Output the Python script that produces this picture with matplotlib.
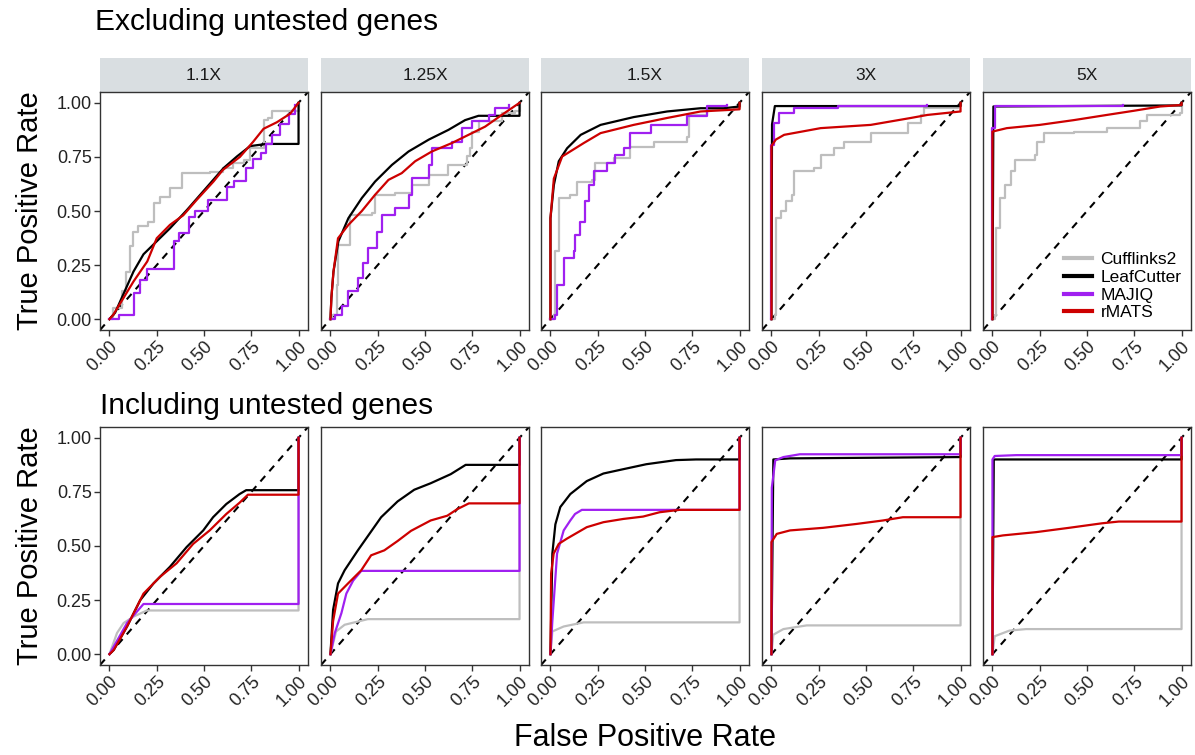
import matplotlib.pyplot as plt
from matplotlib.lines import Line2D

plt.rcParams['font.family'] = ['Liberation Sans', 'DejaVu Sans']

# fold-change facets and methods
facets = ['1.1X', '1.25X', '1.5X', '3X', '5X']
methods = ['Cufflinks2', 'LeafCutter', 'MAJIQ', 'rMATS']
colours = ['#BEBEBE', '#000000', '#A020F0', '#CD0000']
ticks = [0.0, 0.25, 0.5, 0.75, 1.0]
tick_labels = ['0.00', '0.25', '0.50', '0.75', '1.00']

# ROC points (FPR, TPR), excluding untested genes
exc_11_cuff = [(0, 0), (0.02, 0.05), (0.065, 0.13), (0.09, 0.22), (0.11, 0.34), (0.127, 0.405), (0.153, 0.43),
               (0.206, 0.45), (0.233, 0.536), (0.268, 0.567), (0.32, 0.605), (0.383, 0.675), (0.533, 0.68),
               (0.603, 0.698), (0.656, 0.72), (0.709, 0.736), (0.744, 0.79), (0.815, 0.92), (0.84, 0.93),
               (0.86, 0.96), (0.956, 0.96), (1.0, 1.0)]
exc_11_leaf = [(0, 0), (0.03, 0.03), (0.127, 0.22), (0.18, 0.30), (0.25, 0.36), (0.32, 0.42), (0.41, 0.505),
               (0.48, 0.575), (0.603, 0.698), (0.674, 0.752), (0.744, 0.80), (0.83, 0.81), (1.0, 0.81), (1.0, 1.0)]
exc_11_majiq = [(0, 0), (0.05, 0.02), (0.13, 0.12), (0.16, 0.18), (0.20, 0.23), (0.34, 0.36), (0.37, 0.40),
                (0.42, 0.47), (0.45, 0.50), (0.52, 0.55), (0.62, 0.61), (0.66, 0.64), (0.72, 0.70), (0.76, 0.74),
                (0.80, 0.77), (0.83, 0.81), (0.86, 0.85), (0.90, 0.90), (0.95, 0.95), (0.98, 0.99)]
exc_11_rmats = [(0, 0), (0.02, 0.02), (0.127, 0.174), (0.2, 0.267), (0.25, 0.374), (0.32, 0.436), (0.39, 0.48),
                (0.46, 0.55), (0.55, 0.636), (0.60, 0.69), (0.69, 0.75), (0.76, 0.82), (0.815, 0.88), (0.885, 0.91),
                (0.956, 0.95), (1.0, 1.0)]

exc_125_cuff = [(0, 0), (0.01, 0.02), (0.033, 0.16), (0.042, 0.343), (0.104, 0.482), (0.22, 0.49), (0.236, 0.575),
                (0.342, 0.582), (0.43, 0.62), (0.52, 0.667), (0.624, 0.713), (0.72, 0.752), (0.74, 0.79),
                (0.748, 0.867), (0.783, 0.914), (0.906, 0.952), (0.977, 0.96), (1.0, 1.0)]
exc_125_leaf = [(0, 0), (0.005, 0.1), (0.016, 0.22), (0.042, 0.36), (0.095, 0.467), (0.166, 0.56), (0.236, 0.636),
                (0.325, 0.713), (0.413, 0.775), (0.52, 0.83), (0.624, 0.875), (0.712, 0.92), (0.783, 0.94),
                (1.0, 0.94), (1.0, 1.0)]
exc_125_majiq = [(0, 0), (0.025, 0.02), (0.06, 0.06), (0.095, 0.128), (0.148, 0.19), (0.17, 0.26), (0.2, 0.33),
                 (0.245, 0.405), (0.27, 0.482), (0.342, 0.513), (0.413, 0.575), (0.43, 0.652), (0.52, 0.713),
                 (0.536, 0.79), (0.642, 0.82), (0.695, 0.883), (0.748, 0.914), (0.836, 0.944), (0.87, 0.975),
                 (0.942, 0.99)]
exc_125_rmats = [(0, 0), (0.005, 0.1), (0.016, 0.22), (0.04, 0.374), (0.095, 0.436), (0.166, 0.50), (0.236, 0.575),
                 (0.307, 0.644), (0.377, 0.675), (0.448, 0.73), (0.536, 0.775), (0.642, 0.814), (0.73, 0.852),
                 (0.818, 0.89), (0.906, 0.944), (1.0, 1.0)]

exc_15_cuff = [(0, 0), (0.02, 0.02), (0.026, 0.313), (0.044, 0.56), (0.106, 0.575), (0.14, 0.636), (0.22, 0.644),
               (0.238, 0.72), (0.335, 0.744), (0.423, 0.798), (0.547, 0.82), (0.723, 0.844), (0.732, 0.944),
               (0.83, 0.968), (0.97, 0.975), (1.0, 1.0)]
exc_15_leaf = [(0, 0), (0.0, 0.467), (0.018, 0.62), (0.044, 0.73), (0.088, 0.79), (0.16, 0.852), (0.265, 0.898),
               (0.44, 0.934), (0.617, 0.96), (0.794, 0.975), (0.917, 0.975), (1.0, 0.983), (1.0, 1.0)]
exc_15_majiq = [(0, 0), (0.026, 0.02), (0.035, 0.16), (0.07, 0.282), (0.123, 0.313), (0.132, 0.39), (0.155, 0.45),
                (0.185, 0.544), (0.205, 0.62), (0.23, 0.683), (0.30, 0.72), (0.34, 0.76), (0.388, 0.79),
                (0.423, 0.86), (0.53, 0.898), (0.723, 0.937), (0.83, 0.983), (0.935, 0.99)]
exc_15_rmats = [(0, 0), (0.0, 0.467), (0.018, 0.65), (0.062, 0.752), (0.176, 0.814), (0.265, 0.86), (0.44, 0.898),
                (0.617, 0.93), (0.794, 0.96), (1.0, 0.97), (1.0, 1.0)]

exc_3_cuff = [(0, 0), (0.018, 0.02), (0.023, 0.467), (0.05, 0.5), (0.076, 0.544), (0.11, 0.575), (0.12, 0.683),
              (0.226, 0.698), (0.26, 0.76), (0.33, 0.79), (0.384, 0.82), (0.525, 0.86), (0.72, 0.906),
              (0.79, 0.944), (0.808, 0.975), (0.984, 0.983), (1.0, 1.0)]
exc_3_leaf = [(0, 0), (0.003, 0.9), (0.018, 0.985), (1.0, 0.985), (1.0, 1.0)]
exc_3_majiq = [(0, 0), (0.0, 0.806), (0.014, 0.906), (0.04, 0.952), (0.12, 0.975), (0.35, 0.983), (0.825, 0.99)]
exc_3_rmats = [(0, 0), (0.0, 0.80), (0.023, 0.83), (0.067, 0.852), (0.26, 0.883), (0.525, 0.898), (0.737, 0.93),
               (0.825, 0.944), (1.0, 0.96), (1.0, 1.0)]

exc_5_cuff = [(0, 0), (0.014, 0.02), (0.02, 0.42), (0.04, 0.56), (0.067, 0.62), (0.10, 0.683), (0.12, 0.736),
              (0.226, 0.76), (0.235, 0.82), (0.27, 0.86), (0.43, 0.867), (0.605, 0.883), (0.78, 0.914),
              (0.817, 0.944), (0.993, 0.952), (1.0, 1.0)]
exc_5_leaf = [(0, 0), (0.005, 0.983), (1.0, 0.988), (1.0, 1.0)]
exc_5_majiq = [(0, 0), (0.0, 0.883), (0.014, 0.983), (0.69, 0.99)]
exc_5_rmats = [(0, 0), (0.0, 0.867), (0.076, 0.883), (0.25, 0.898), (0.43, 0.92), (0.605, 0.944), (0.746, 0.963),
               (0.887, 0.983), (1.0, 0.99), (1.0, 1.0)]

# ROC points (FPR, TPR), including untested genes
inc_11_cuff = [(0, 0), (0.04, 0.098), (0.075, 0.144), (0.128, 0.174), (0.198, 0.202), (1.0, 0.202), (1.0, 1.0)]
inc_11_leaf = [(0, 0), (0.023, 0.02), (0.093, 0.128), (0.163, 0.25), (0.233, 0.327), (0.32, 0.404), (0.408, 0.495),
               (0.496, 0.572), (0.548, 0.633), (0.618, 0.694), (0.688, 0.74), (0.723, 0.758), (1.0, 0.758),
               (1.0, 1.0)]
inc_11_majiq = [(0, 0), (0.093, 0.144), (0.18, 0.232), (1.0, 0.232), (1.0, 1.0)]
inc_11_rmats = [(0, 0), (0.023, 0.02), (0.093, 0.128), (0.18, 0.28), (0.268, 0.358), (0.355, 0.42), (0.443, 0.51),
                (0.53, 0.572), (0.618, 0.648), (0.688, 0.70), (0.732, 0.737), (1.0, 0.737), (1.0, 1.0)]

inc_125_cuff = [(0, 0), (0.03, 0.105), (0.075, 0.136), (0.198, 0.162), (1.0, 0.162), (1.0, 1.0)]
inc_125_leaf = [(0, 0), (0.014, 0.205), (0.04, 0.327), (0.075, 0.388), (0.145, 0.48), (0.198, 0.546),
                (0.268, 0.633), (0.355, 0.706), (0.443, 0.76), (0.53, 0.79), (0.636, 0.832), (0.715, 0.875),
                (1.0, 0.875), (1.0, 1.0)]
inc_125_majiq = [(0, 0), (0.023, 0.098), (0.058, 0.19), (0.084, 0.28), (0.12, 0.34), (0.163, 0.385),
                 (1.0, 0.385), (1.0, 1.0)]
inc_125_rmats = [(0, 0), (0.014, 0.153), (0.04, 0.28), (0.093, 0.327), (0.163, 0.388), (0.215, 0.457),
                 (0.285, 0.48), (0.355, 0.523), (0.426, 0.57), (0.53, 0.618), (0.618, 0.64), (0.67, 0.67),
                 (0.732, 0.697), (1.0, 0.697), (1.0, 1.0)]

inc_15_cuff = [(0, 0), (0.01, 0.105), (0.07, 0.128), (0.175, 0.147), (1.0, 0.147), (1.0, 1.0)]
inc_15_leaf = [(0, 0), (0.01, 0.465), (0.026, 0.6), (0.052, 0.68), (0.105, 0.74), (0.192, 0.80), (0.28, 0.835),
               (0.385, 0.855), (0.507, 0.878), (0.664, 0.897), (0.77, 0.9), (1.0, 0.9), (1.0, 1.0)]
inc_15_majiq = [(0, 0), (0.01, 0.153), (0.035, 0.465), (0.07, 0.572), (0.105, 0.618), (0.13, 0.648),
                (0.166, 0.667), (1.0, 0.667), (1.0, 1.0)]
inc_15_rmats = [(0, 0), (0.0035, 0.373), (0.017, 0.465), (0.044, 0.51), (0.087, 0.534), (0.192, 0.587),
                (0.28, 0.61), (0.385, 0.625), (0.49, 0.636), (0.577, 0.656), (0.682, 0.667), (1.0, 0.667),
                (1.0, 1.0)]

inc_3_cuff = [(0, 0), (0.01, 0.09), (0.063, 0.116), (0.186, 0.133), (1.0, 0.133), (1.0, 1.0)]
inc_3_leaf = [(0, 0), (0.01, 0.9), (0.098, 0.905), (1.0, 0.911), (1.0, 1.0)]
inc_3_majiq = [(0, 0), (0.002, 0.77), (0.02, 0.896), (0.063, 0.911), (0.15, 0.924), (1.0, 0.924), (1.0, 1.0)]
inc_3_rmats = [(0, 0), (0.0, 0.518), (0.028, 0.556), (0.098, 0.572), (0.274, 0.584), (0.45, 0.602), (0.59, 0.618),
               (0.695, 0.633), (1.0, 0.633), (1.0, 1.0)]

inc_5_cuff = [(0, 0), (0.012, 0.083), (0.09, 0.109), (0.178, 0.116), (1.0, 0.116), (1.0, 1.0)]
inc_5_leaf = [(0, 0), (0.007, 0.9), (1.0, 0.9), (1.0, 1.0)]
inc_5_majiq = [(0, 0), (0.0, 0.9), (0.012, 0.916), (0.126, 0.92), (1.0, 0.92), (1.0, 1.0)]
inc_5_rmats = [(0, 0), (0.0, 0.541), (0.056, 0.549), (0.23, 0.564), (0.405, 0.584), (0.58, 0.605), (0.668, 0.613),
               (1.0, 0.613), (1.0, 1.0)]

excluding = [
    [exc_11_cuff, exc_11_leaf, exc_11_majiq, exc_11_rmats],
    [exc_125_cuff, exc_125_leaf, exc_125_majiq, exc_125_rmats],
    [exc_15_cuff, exc_15_leaf, exc_15_majiq, exc_15_rmats],
    [exc_3_cuff, exc_3_leaf, exc_3_majiq, exc_3_rmats],
    [exc_5_cuff, exc_5_leaf, exc_5_majiq, exc_5_rmats],
]
including = [
    [inc_11_cuff, inc_11_leaf, inc_11_majiq, inc_11_rmats],
    [inc_125_cuff, inc_125_leaf, inc_125_majiq, inc_125_rmats],
    [inc_15_cuff, inc_15_leaf, inc_15_majiq, inc_15_rmats],
    [inc_3_cuff, inc_3_leaf, inc_3_majiq, inc_3_rmats],
    [inc_5_cuff, inc_5_leaf, inc_5_majiq, inc_5_rmats],
]

W, H = 1195, 755
fig = plt.figure(figsize=(W / 100, H / 100), dpi=100)


def px_box(left, top, width, height):
    return [left / W, 1 - (top + height) / H, width / W, height / H]


lefts = [100, 321, 541, 762, 983]
pw, ph = 208, 238


def panel(left, top, curves, first, stepped):
    ax = fig.add_axes(px_box(left, top, pw, ph))
    ax.plot([-0.05, 1.05], [-0.05, 1.05], color='black', lw=1.5, ls=(0, (3.5, 3.0)), zorder=1)
    for i, pts in enumerate(curves):
        xs = [p[0] for p in pts]
        ys = [p[1] for p in pts]
        ds = 'steps-post' if (stepped and i in (0, 2)) else 'default'
        ax.plot(xs, ys, color=colours[i], lw=1.6, drawstyle=ds, zorder=2 + i)
    ax.set_xlim(-0.05, 1.05)
    ax.set_ylim(-0.05, 1.05)
    ax.set_xticks(ticks)
    ax.set_xticklabels(tick_labels, rotation=45, ha='right', va='top', rotation_mode='anchor', fontsize=13)
    if first:
        ax.set_yticks(ticks)
        ax.set_yticklabels(tick_labels, fontsize=13)
    else:
        ax.set_yticks([])
    ax.tick_params(length=4, width=1, color='#333333', labelcolor='#222222', pad=2)
    for s in ax.spines.values():
        s.set_color('#333333')
        s.set_linewidth(1.0)
    return ax


top_row = 92
bottom_row = 427
for k in range(5):
    strip = fig.add_axes(px_box(lefts[k], 58, pw, 34))
    strip.set_facecolor('#D9DEE1')
    strip.set_xticks([])
    strip.set_yticks([])
    for s in strip.spines.values():
        s.set_visible(False)
    strip.text(0.5, 0.5, facets[k], ha='center', va='center', fontsize=12.5, color='#1A1A1A',
               transform=strip.transAxes)
    ax_top = panel(lefts[k], top_row, excluding[k], k == 0, True)
    panel(lefts[k], bottom_row, including[k], k == 0, False)
    if k == 4:
        handles = [Line2D([], [], color=c, lw=3) for c in colours]
        ax_top.legend(handles, methods, loc='lower right', frameon=False, fontsize=12.5,
                      handlelength=1.6, handletextpad=0.5, labelspacing=0.15, borderaxespad=0.15)

fig.text(95 / W, 1 - 22 / H, 'Excluding untested genes', fontsize=21.5, ha='left', va='center')
fig.text(100 / W, 1 - 406 / H, 'Including untested genes', fontsize=21.5, ha='left', va='center')
fig.text(645 / W, 1 - 738 / H, 'False Positive Rate', fontsize=22, ha='center', va='center')
fig.text(30 / W, 1 - (top_row + ph / 2) / H, 'True Positive Rate', fontsize=21, rotation=90,
         ha='center', va='center')
fig.text(30 / W, 1 - (bottom_row + ph / 2) / H, 'True Positive Rate', fontsize=21, rotation=90,
         ha='center', va='center')

fig.savefig('out.png', dpi=100)
